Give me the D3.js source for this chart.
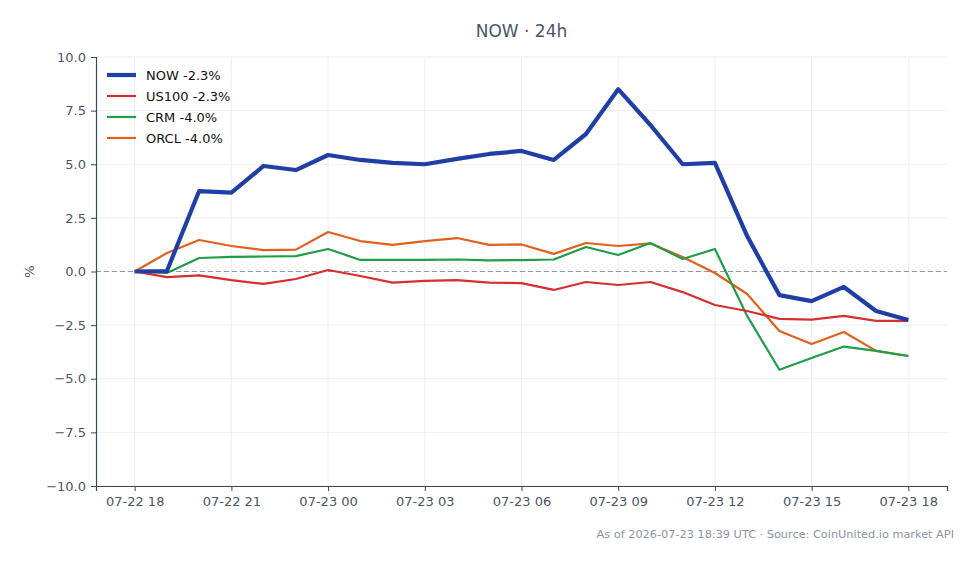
<!DOCTYPE html>
<html>
<head>
<meta charset="utf-8">
<script src="https://cdn.jsdelivr.net/npm/d3@7"></script>
<style>
  body { margin: 0; background: #fff; }
  text { font-family: "DejaVu Sans", sans-serif; }
</style>
</head>
<body>
<script>
// hourly timestamps, 07-22 18:00 -> 07-23 18:00
const start = new Date(2026, 6, 22, 18);
const hours = d3.range(25).map(i => new Date(start.getTime() + i * 3600e3));

const nowVals = [0, 0.02, 3.75, 3.68, 4.92, 4.73, 5.43, 5.2, 5.06, 5.0, 5.25, 5.48, 5.62, 5.2, 6.41, 8.5, 6.83, 5.0, 5.06, 1.65, -1.1, -1.38, -0.72, -1.84, -2.26];
const us100Vals = [0, -0.26, -0.18, -0.4, -0.58, -0.35, 0.07, -0.21, -0.52, -0.44, -0.4, -0.52, -0.54, -0.86, -0.49, -0.63, -0.49, -0.96, -1.56, -1.84, -2.21, -2.24, -2.07, -2.3, -2.3];
const crmVals = [0, -0.07, 0.63, 0.68, 0.7, 0.72, 1.05, 0.54, 0.54, 0.54, 0.56, 0.52, 0.53, 0.56, 1.14, 0.77, 1.33, 0.58, 1.05, -2.07, -4.58, -4.03, -3.5, -3.7, -3.94];
const orclVals = [0, 0.86, 1.47, 1.19, 1.0, 1.02, 1.84, 1.42, 1.24, 1.42, 1.56, 1.24, 1.26, 0.82, 1.33, 1.19, 1.31, 0.68, -0.07, -1.05, -2.77, -3.38, -2.82, -3.7, -3.94];

const seriesNames = ["NOW -2.3%", "US100 -2.3%", "CRM -4.0%", "ORCL -4.0%"];
const seriesColors = ["#1f3fa6", "#d62f2f", "#1e9e48", "#e2601c"];
const seriesWidths = [4.2, 2.2, 2.2, 2.2];
const yTicks = [-10, -7.5, -5, -2.5, 0, 2.5, 5, 7.5, 10];

const W = 978, H = 564;
const m = { left: 96, right: 31, top: 57, bottom: 78 };

const svg = d3.select("body").append("svg")
  .attr("width", W).attr("height", H);

const pad = 1.2 * 3600e3;
const x = d3.scaleTime()
  .domain([new Date(hours[0].getTime() - pad), new Date(hours[24].getTime() + pad)])
  .range([m.left, W - m.right]);
const y = d3.scaleLinear().domain([-10, 10]).range([H - m.bottom, m.top]);

const xTicks = d3.range(0, 25, 3).map(i => hours[i]);
const fmt = d3.timeFormat("%m-%d %H");

// grid
svg.append("g").selectAll("line").data(yTicks).join("line")
  .attr("x1", m.left).attr("x2", W - m.right)
  .attr("y1", d => y(d)).attr("y2", d => y(d))
  .style("stroke", "#e8ebf0").style("stroke-width", 0.8);
svg.append("g").selectAll("line").data(xTicks).join("line")
  .attr("x1", d => x(d)).attr("x2", d => x(d))
  .attr("y1", m.top).attr("y2", H - m.bottom)
  .style("stroke", "#e8ebf0").style("stroke-width", 0.8);

// zero line
svg.append("line")
  .attr("x1", m.left).attr("x2", W - m.right)
  .attr("y1", y(0)).attr("y2", y(0))
  .style("stroke", "#8a9ab5").style("stroke-width", 1)
  .style("stroke-dasharray", "5,3");

// axes
const xAxis = svg.append("g")
  .attr("transform", `translate(0,${H - m.bottom})`)
  .call(d3.axisBottom(x).tickValues(xTicks).tickFormat(fmt).tickSizeOuter(0).tickSize(5).tickPadding(6));
const yAxis = svg.append("g")
  .attr("transform", `translate(${m.left},0)`)
  .call(d3.axisLeft(y).tickValues(yTicks).tickFormat(d => d3.format(".1f")(d).replace("-", "\u2212")).tickSizeOuter(0).tickSize(5).tickPadding(5));

[xAxis, yAxis].forEach(a => {
  a.select(".domain").style("stroke", "#3b4656").style("stroke-width", 1.2);
  a.selectAll(".tick line").style("stroke", "#3b4656");
  a.selectAll(".tick text").style("fill", "#4a5568").style("font-size", "13px")
    .style("font-family", "'DejaVu Sans', sans-serif");
});

svg.append("text")
  .attr("transform", `translate(34,${y(0)}) rotate(-90)`)
  .attr("text-anchor", "middle")
  .style("fill", "#4a5568").style("font-size", "13px")
  .text("%");

// lines
const allVals = [nowVals, us100Vals, crmVals, orclVals];
const line = d3.line().x((d, i) => x(hours[i])).y(d => y(d));
[3, 2, 1, 0].forEach(k => {
  svg.append("path")
    .datum(allVals[k])
    .attr("d", line)
    .style("fill", "none")
    .style("stroke", seriesColors[k])
    .style("stroke-width", seriesWidths[k])
    .style("stroke-linejoin", "round");
});

// legend
const legend = svg.append("g").attr("transform", "translate(107,75)");
seriesNames.forEach((name, k) => {
  const g = legend.append("g").attr("transform", `translate(0,${k * 21})`);
  g.append("line").attr("x1", 0).attr("x2", 29)
    .style("stroke", seriesColors[k]).style("stroke-width", seriesWidths[k]);
  g.append("text").attr("x", 39).attr("y", 4.5)
    .style("font-size", "13px").style("fill", "#111")
    .text(name);
});

// title
svg.append("text")
  .attr("x", (m.left + W - m.right) / 2).attr("y", 37)
  .attr("text-anchor", "middle")
  .style("font-size", "17px").style("fill", "#4a5568")
  .text("NOW \u00b7 24h");

// footer
svg.append("text")
  .attr("x", 954).attr("y", 538)
  .attr("text-anchor", "end")
  .style("font-size", "11.3px").style("fill", "#8a94a3")
  .text("As of 2026-07-23 18:39 UTC \u00b7 Source: CoinUnited.io market API");
</script>
</body>
</html>
